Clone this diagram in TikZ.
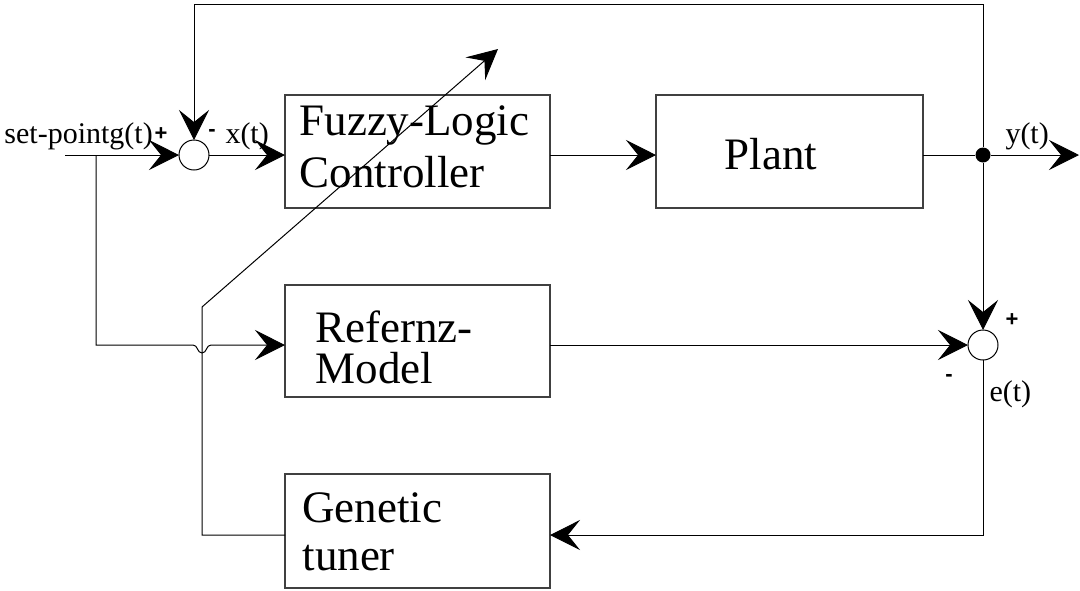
\documentclass[tikz,border=0pt]{standalone}
\usepackage{fontspec}
\setmainfont{Liberation Serif}
\newfontfamily\signfont{Liberation Sans}
\usetikzlibrary{arrows.meta}
\tikzset{
  every path/.style={line width=1pt},
  arr/.style={-{Stealth[length=30pt,width=30pt,inset=12pt]}},
  box/.style={draw, line width=1.3pt, draw=black!75, rectangle, inner sep=0pt, outer sep=0pt, minimum width=265pt, minimum height=113pt},
  sumj/.style={draw, circle, inner sep=0pt, outer sep=0pt, minimum size=30pt},
  big/.style={inner sep=0pt, align=left, anchor=base west},
  lbl/.style={inner sep=0pt, font=\fontsize{30}{30}\selectfont},
  sgn/.style={inner sep=0pt, font=\signfont\bfseries\fontsize{22}{22}\selectfont},
}
\begin{document}
\begin{tikzpicture}[x=1pt,y=-1pt]
\useasboundingbox (0,0) rectangle (1080,590);
% boxes
\node[box] (fuzzy) at (417.5,151.5) {};
\node[box, minimum width=267pt] (plant) at (789.5,151.5) {};
\node[box, minimum height=112pt] (ref) at (417.5,341) {};
\node[box, minimum height=114pt] (gen) at (417.5,531) {};
% junctions
\node[sumj] (j1) at (194,155) {};
\node[sumj] (j2) at (983,345) {};
\node[fill, circle, inner sep=0pt, minimum size=15pt] (dot) at (983,155) {};
% coordinates
\coordinate (in) at (65,155);
\coordinate (br) at (96,155);
\coordinate (tl) at (194,4);
\coordinate (tr) at (983,4);
\coordinate (out) at (1079,155);
\coordinate (gl) at (202,535);
\coordinate (gd) at (202,307);
\coordinate (tip) at (498,49);
% box texts
\node[big, font=\fontsize{45}{52}\selectfont] (tf) at (299,187) {Fuzzy-Logic\\Controller};
\node[big, font=\fontsize{45}{45}\selectfont] (tp) at (724,169) {Plant};
\node[big, font=\fontsize{45}{41}\selectfont] (trf) at (315,383) {Refernz-\\Model};
\node[big, font=\fontsize{45}{48}\selectfont] (tg) at (302,570) {Genetic\\tuner};
% labels
\node[lbl, anchor=base west] (lsp) at (4,143) {set-pointg(t)};
\node[lbl, anchor=base west] (lx) at (225,143) {x(t)};
\node[lbl, anchor=base west] (ly) at (1005,143) {y(t)};
\node[lbl, anchor=base west] (le) at (989,401) {e(t)};
\node[sgn] (p1) at (161,134) {+};
\node[sgn] (m1) at (212,133) {-};
\node[sgn] (p2) at (1012,320) {+};
\node[sgn] (m2) at (949,378) {-};
% connectors
\draw[arr] (in) -- (j1.west);
\draw[arr] (j1.east) -- (fuzzy.west |- j1);
\draw[arr] (fuzzy.east |- j1) -- (plant.west |- j1);
\draw (plant.east |- dot) -- (dot);
\draw[arr] (dot) -- (out);
\draw[arr] (dot) -- (tr) -| (tl) -- (j1.north);
\draw[arr] (dot) -- (j2.north);
\draw[arr] (br) |- (193,345) .. controls (198,345) and (197,353) .. (202,353) .. controls (207,353) and (206,345) .. (211,345) -- (ref.west |- 0,345);
\draw[arr] (ref.east |- j2) -- (j2.west);
\draw[arr] (j2.south) |- (gen.east |- gl);
\draw[arr] (gen.west |- gl) -- (gl) -- (gd) -- (tip);
\end{tikzpicture}
\end{document}
